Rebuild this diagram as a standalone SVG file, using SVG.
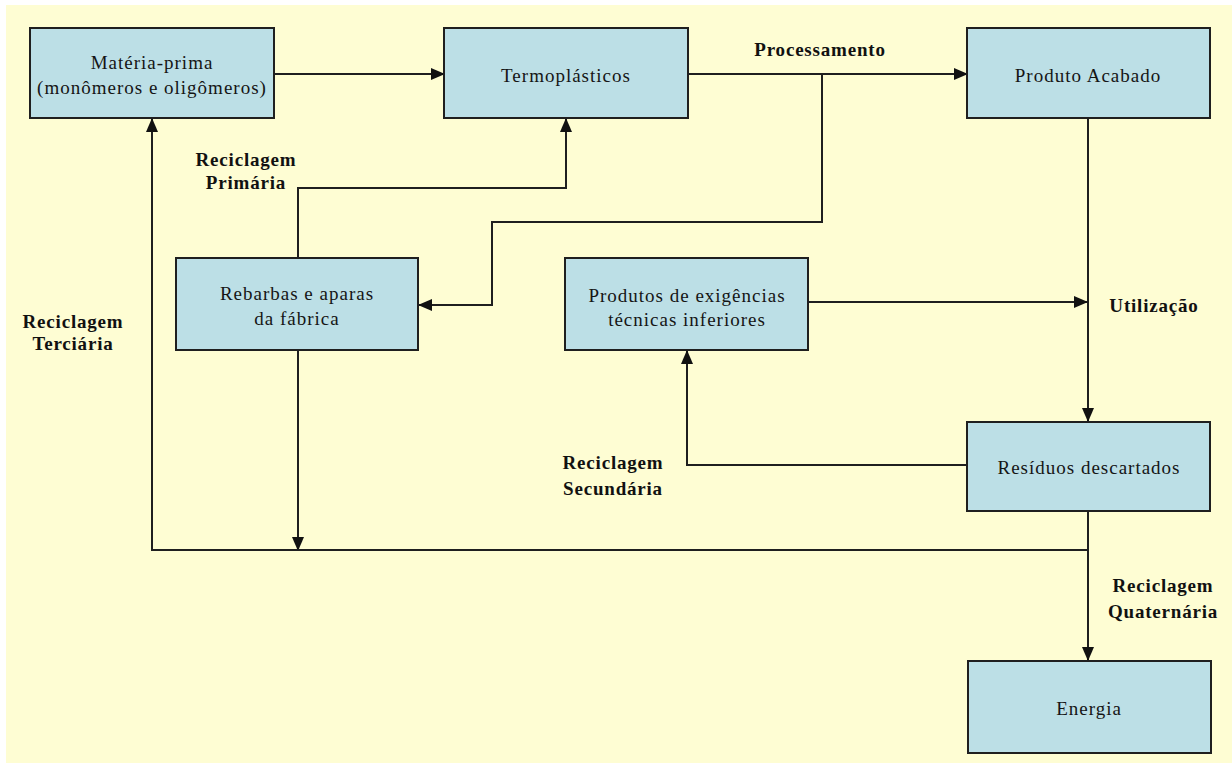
<svg xmlns="http://www.w3.org/2000/svg" width="1232" height="763" viewBox="0 0 1232 763">
<style>
.box{fill:#BCDFE6;stroke:#1f1f1f;stroke-width:2}
.t{font-family:"Liberation Serif","Times New Roman",serif;font-size:19px;letter-spacing:1px;fill:#151515;text-anchor:middle}
.b{font-family:"Liberation Serif","Times New Roman",serif;font-size:19px;font-weight:bold;letter-spacing:0.8px;fill:#111;text-anchor:middle}
.c{fill:none;stroke:#1f1f1f;stroke-width:2}
</style>
<defs>
<marker id="arr" markerUnits="userSpaceOnUse" markerWidth="14" markerHeight="12" refX="13" refY="6" orient="auto">
<path d="M0,0 L14,6 L0,12 Z" fill="#111"/>
</marker>
</defs>
<rect x="0" y="0" width="1232" height="763" fill="#ffffff"/>
<rect x="6" y="5" width="1226" height="758" fill="#FEFDD3"/>
<g id="connectors">
<line class="c" x1="274" y1="74" x2="444" y2="74" marker-end="url(#arr)"/>
<line class="c" x1="688" y1="74" x2="967" y2="74" marker-end="url(#arr)"/>
<polyline class="c" points="822,74 822,222 492,222 492,305 419,305" marker-end="url(#arr)"/>
<polyline class="c" points="298,258 298,188 566,188 566,119" marker-end="url(#arr)"/>
<line class="c" x1="298" y1="350" x2="298" y2="550" marker-end="url(#arr)"/>
<polyline class="c" points="1088,550 152,550 152,119" marker-end="url(#arr)"/>
<line class="c" x1="1088" y1="118" x2="1088" y2="421" marker-end="url(#arr)"/>
<line class="c" x1="808" y1="302" x2="1087" y2="302" marker-end="url(#arr)"/>
<polyline class="c" points="967,465 687,465 687,351" marker-end="url(#arr)"/>
<line class="c" x1="1088" y1="511" x2="1088" y2="660" marker-end="url(#arr)"/>
</g>
<g id="n-materia">
<rect class="box" x="30" y="28" width="244" height="90"/>
<text class="t" x="152" y="69">Matéria-prima</text>
<text class="t" x="152" y="94">(monômeros e oligômeros)</text>
</g>
<g id="n-termo">
<rect class="box" x="444" y="28" width="244" height="90"/>
<text class="t" x="566" y="82">Termoplásticos</text>
</g>
<g id="n-produto">
<rect class="box" x="967" y="28" width="243" height="90"/>
<text class="t" x="1088" y="82">Produto Acabado</text>
</g>
<g id="n-rebarbas">
<rect class="box" x="176" y="258" width="242" height="92"/>
<text class="t" x="297" y="300">Rebarbas e aparas</text>
<text class="t" x="297" y="325">da fábrica</text>
</g>
<g id="n-exigencias">
<rect class="box" x="565" y="258" width="243" height="92"/>
<text class="t" x="687" y="302">Produtos de exigências</text>
<text class="t" x="687" y="326">técnicas inferiores</text>
</g>
<g id="n-residuos">
<rect class="box" x="967" y="422" width="243" height="89"/>
<text class="t" x="1089" y="474">Resíduos descartados</text>
</g>
<g id="n-energia">
<rect class="box" x="968" y="661" width="243" height="92"/>
<text class="t" x="1089" y="715">Energia</text>
</g>
<g id="labels">
<text class="b" x="820" y="56">Processamento</text>
<text class="b" x="246" y="166">Reciclagem</text>
<text class="b" x="246" y="189">Primária</text>
<text class="b" x="73" y="328">Reciclagem</text>
<text class="b" x="73" y="350">Terciária</text>
<text class="b" x="1154" y="312">Utilização</text>
<text class="b" x="613" y="469">Reciclagem</text>
<text class="b" x="613" y="495">Secundária</text>
<text class="b" x="1163" y="592">Reciclagem</text>
<text class="b" x="1163" y="618">Quaternária</text>
</g>
</svg>
